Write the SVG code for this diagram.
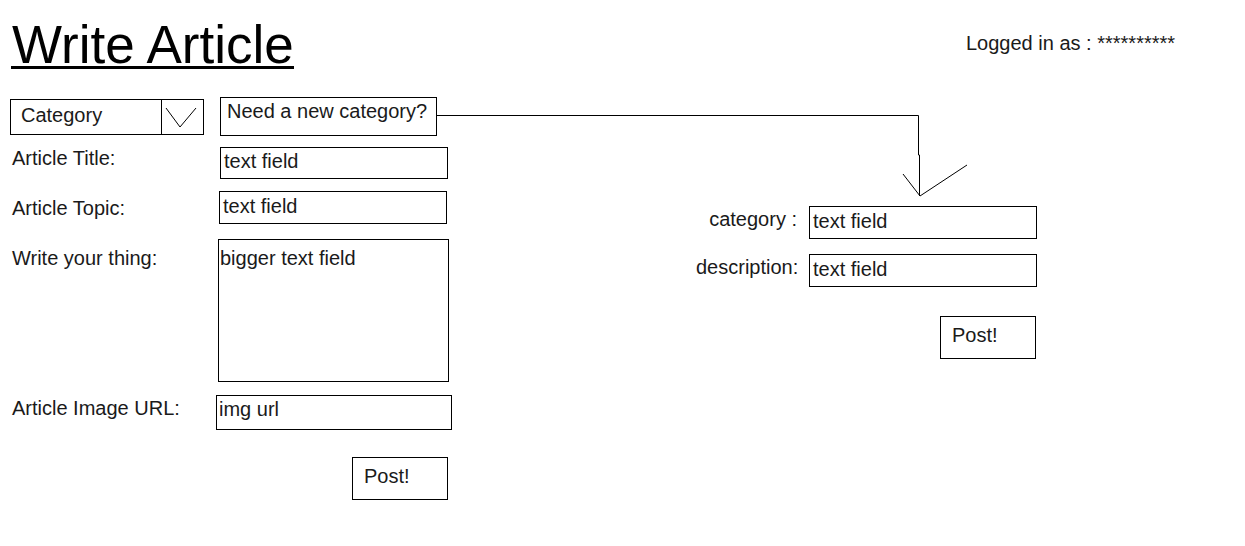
<svg xmlns="http://www.w3.org/2000/svg" width="1245" height="546" viewBox="0 0 1245 546">
<style>
text{font-family:"Liberation Sans",Arial,sans-serif;font-size:20px;fill:#1a1a1a}
.box{fill:#fff;stroke:#000;stroke-width:1}
.ln{fill:none;stroke:#000;stroke-width:1}
</style>
<rect width="1245" height="546" fill="#fff"/>
<g id="title">
<text x="12" y="63" style="font-size:53px;fill:#000">Write Article</text>
<rect x="11" y="66" width="283" height="3" fill="#000"/>
</g>
<g id="logged"><text x="966" y="50">Logged in as : **********</text></g>
<g id="category-dropdown">
<rect class="box" x="10.5" y="99.5" width="193" height="35"/>
<line class="ln" x1="161.5" y1="99.5" x2="161.5" y2="134.5"/>
<polyline class="ln" points="166,108 180,127 196,108"/>
<text x="21" y="122">Category</text>
</g>
<g id="new-category-btn">
<rect class="box" x="220.5" y="97.5" width="216" height="38"/>
<text x="227" y="118">Need a new category?</text>
</g>
<g id="article-title">
<text x="12" y="165">Article Title:</text>
<rect class="box" x="220.5" y="147.5" width="227" height="31"/>
<text x="224" y="168">text field</text>
</g>
<g id="article-topic">
<text x="12" y="215">Article Topic:</text>
<rect class="box" x="219.5" y="191.5" width="227" height="32"/>
<text x="223" y="213">text field</text>
</g>
<g id="write-thing">
<text x="12" y="265">Write your thing:</text>
<rect class="box" x="218.5" y="239.5" width="230" height="142"/>
<text x="220" y="265">bigger text field</text>
</g>
<g id="image-url">
<text x="12" y="415">Article Image URL:</text>
<rect class="box" x="216.5" y="395.5" width="235" height="34"/>
<text x="219" y="416">img url</text>
</g>
<g id="post-left">
<rect class="box" x="352.5" y="457.5" width="95" height="42"/>
<text x="364" y="483">Post!</text>
</g>
<g id="new-category">
<text x="797" y="226" text-anchor="end">category :</text>
<rect class="box" x="809.5" y="206.5" width="227" height="32"/>
<text x="813" y="228">text field</text>
</g>
<g id="new-description">
<text x="696" y="274">description:</text>
<rect class="box" x="809.5" y="254.5" width="227" height="32"/>
<text x="813" y="276">text field</text>
</g>
<g id="post-right">
<rect class="box" x="940.5" y="316.5" width="95" height="42"/>
<text x="952" y="342">Post!</text>
</g>
<g id="connectors">
<polyline class="ln" points="437,115.5 918.5,115.5 918.5,155 919.5,155 919.5,196"/>
<polyline class="ln" points="903,174 920,196 967,165"/>
</g>
</svg>
